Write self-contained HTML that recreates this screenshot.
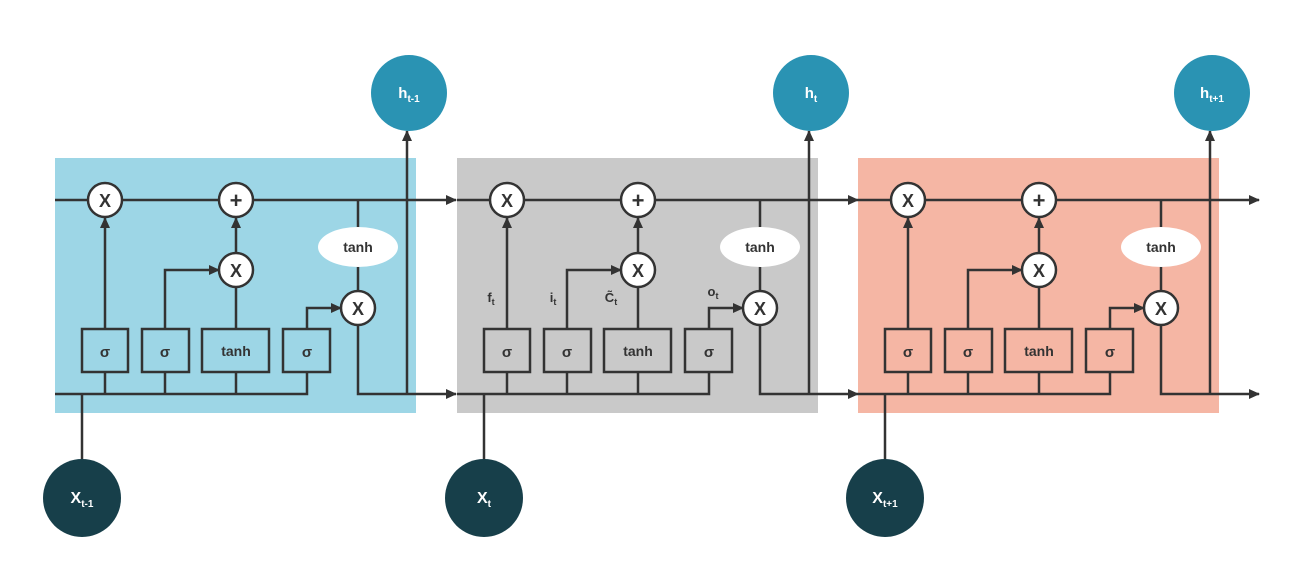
<!DOCTYPE html>
<html><head><meta charset="utf-8"><style>
html,body{margin:0;padding:0;background:#fff;width:1316px;height:561px;overflow:hidden}
text{font-family:"Liberation Sans",sans-serif;font-weight:bold;fill:#333}
.w{fill:#fff}
</style></head><body>
<svg width="1316" height="561" viewBox="0 0 1316 561" xmlns="http://www.w3.org/2000/svg">
<defs>
<marker id="a" markerWidth="11" markerHeight="10" refX="10" refY="5" orient="auto" markerUnits="userSpaceOnUse">
<path d="M0,0 L11,5 L0,10 z" fill="#333"/></marker>
<g id="cell">
 <line x1="55" y1="200" x2="88" y2="200" stroke="#333" stroke-width="2.5"/>
 <line x1="122" y1="200" x2="219" y2="200" stroke="#333" stroke-width="2.5"/>
 <line x1="253" y1="200" x2="456" y2="200" stroke="#333" stroke-width="2.5" marker-end="url(#a)"/>
 <polyline points="55,394 307,394 307,372" fill="none" stroke="#333" stroke-width="2.5"/>
 <line x1="105" y1="394" x2="105" y2="372" stroke="#333" stroke-width="2.5"/>
 <line x1="165" y1="394" x2="165" y2="372" stroke="#333" stroke-width="2.5"/>
 <line x1="236" y1="394" x2="236" y2="372" stroke="#333" stroke-width="2.5"/>
 <line x1="105" y1="329" x2="105" y2="218" stroke="#333" stroke-width="2.5" marker-end="url(#a)"/>
 <polyline points="165,329 165,270 219,270" fill="none" stroke="#333" stroke-width="2.5" marker-end="url(#a)"/>
 <line x1="236" y1="329" x2="236" y2="288" stroke="#333" stroke-width="2.5"/>
 <line x1="236" y1="252" x2="236" y2="218" stroke="#333" stroke-width="2.5" marker-end="url(#a)"/>
 <polyline points="307,329 307,308 341,308" fill="none" stroke="#333" stroke-width="2.5" marker-end="url(#a)"/>
 <line x1="358" y1="200" x2="358" y2="290" stroke="#333" stroke-width="2.5"/>
 <polyline points="358,326 358,394 456,394" fill="none" stroke="#333" stroke-width="2.5" marker-end="url(#a)"/>
 <line x1="407" y1="394" x2="407" y2="131" stroke="#333" stroke-width="2.5" marker-end="url(#a)"/>
 <line x1="82" y1="394" x2="82" y2="460" stroke="#333" stroke-width="2.5"/>
 <g fill="none" stroke="#333" stroke-width="2.5">
  <rect x="82" y="329" width="46" height="43"/>
  <rect x="142" y="329" width="47" height="43"/>
  <rect x="202" y="329" width="67" height="43"/>
  <rect x="283" y="329" width="47" height="43"/>
 </g>
 <text x="105" y="357" font-size="15" text-anchor="middle">σ</text>
 <text x="165" y="357" font-size="15" text-anchor="middle">σ</text>
 <text x="236" y="356" font-size="14" text-anchor="middle">tanh</text>
 <text x="307" y="357" font-size="15" text-anchor="middle">σ</text>
 <g fill="#fff" stroke="#333" stroke-width="2.5">
  <circle cx="105" cy="200" r="17"/>
  <circle cx="236" cy="200" r="17"/>
  <circle cx="236" cy="270" r="17"/>
  <circle cx="358" cy="308" r="17"/>
 </g>
 <ellipse cx="358" cy="247" rx="40" ry="20" fill="#fff"/>
 <text x="358" y="252" font-size="14" text-anchor="middle">tanh</text>
 <text x="105" y="207" font-size="18" text-anchor="middle">X</text>
 <text x="236" y="208" font-size="22" text-anchor="middle">+</text>
 <text x="236" y="277" font-size="18" text-anchor="middle">X</text>
 <text x="358" y="315" font-size="18" text-anchor="middle">X</text>
 <circle cx="409" cy="93" r="38" fill="#2a93b3"/>
 <circle cx="82" cy="498" r="39" fill="#173f4a"/>
</g>
</defs>
<rect x="55" y="158" width="361" height="255" fill="#9dd6e6"/>
<rect x="457" y="158" width="361" height="255" fill="#c9c9c9"/>
<rect x="858" y="158" width="361" height="255" fill="#f5b6a4"/>
<use href="#cell"/>
<use href="#cell" transform="translate(402,0)"/>
<use href="#cell" transform="translate(803,0)"/>
<text class="w" x="409" y="98" font-size="15" text-anchor="middle">h<tspan font-size="10" dy="4">t-1</tspan></text>
<text class="w" x="811" y="98" font-size="15" text-anchor="middle">h<tspan font-size="10" dy="4">t</tspan></text>
<text class="w" x="1212" y="98" font-size="15" text-anchor="middle">h<tspan font-size="10" dy="4">t+1</tspan></text>
<text class="w" x="82" y="503" font-size="16" text-anchor="middle">X<tspan font-size="10" dy="4">t-1</tspan></text>
<text class="w" x="484" y="503" font-size="16" text-anchor="middle">X<tspan font-size="10" dy="4">t</tspan></text>
<text class="w" x="885" y="503" font-size="16" text-anchor="middle">X<tspan font-size="10" dy="4">t+1</tspan></text>
<text x="491" y="302" font-size="13" text-anchor="middle">f<tspan font-size="9" dy="3">t</tspan></text>
<text x="553" y="302" font-size="13" text-anchor="middle">i<tspan font-size="9" dy="3">t</tspan></text>
<text x="611" y="302" font-size="13" text-anchor="middle">C̃<tspan font-size="9" dy="3">t</tspan></text>
<text x="713" y="296" font-size="13" text-anchor="middle">o<tspan font-size="9" dy="3">t</tspan></text>
</svg>
</body></html>
